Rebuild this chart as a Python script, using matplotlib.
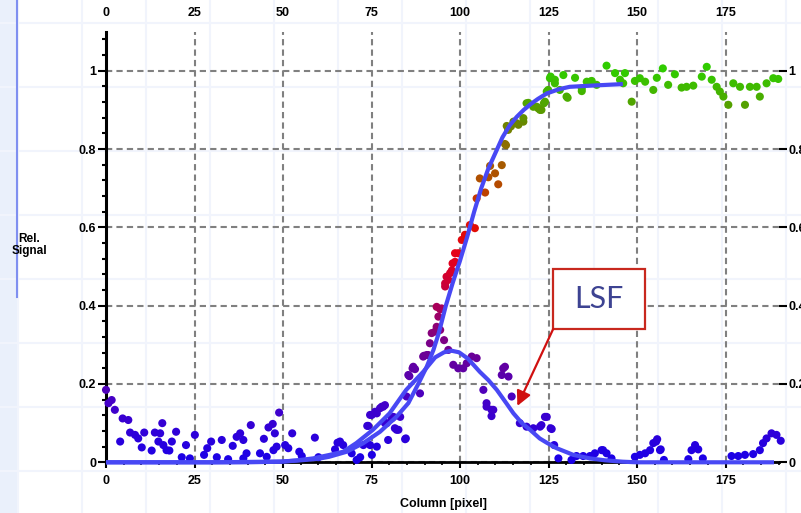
import matplotlib
matplotlib.use("Agg")
import matplotlib.pyplot as plt
import numpy as np
from matplotlib.colors import LinearSegmentedColormap
from matplotlib.patches import Rectangle

# ---- data ----
# edge spread samples (rising edge + plateau)
edge_x = [93.4, 93.9, 94.4, 94.8, 95.8, 95.8, 96.2, 96.7, 97.2, 97.7, 97.9, 98.6, 98.6, 99.5,
          100.5, 101.4, 102.8, 104.2, 104.7, 105.6, 107.1, 108.0, 108.5, 109.9, 110.8, 111.8,
          112.7, 113.0, 113.2, 113.6, 114.4, 115.1, 116.0, 116.5, 117.9, 117.9, 118.8, 119.3,
          120.7, 121.7, 122.1, 122.6, 123.0, 123.7, 124.0, 124.5, 124.9, 125.4, 125.6, 126.8,
          126.8, 128.2, 129.2, 130.1, 130.4, 132.5, 134.4, 134.4, 135.8, 136.7, 137.2, 138.6,
          141.4, 143.8, 145.2, 146.1, 146.6, 148.5, 149.4, 150.8, 152.3, 154.6, 155.6, 157.3,
          158.8, 160.7, 162.6, 164.0, 165.9, 168.3, 169.7, 171.1, 172.5, 173.4, 174.4, 175.8,
          177.2, 179.1, 180.5, 181.9, 183.8, 184.7, 186.6, 188.5, 189.9]
edge_y = [0.397, 0.372, 0.391, 0.393, 0.449, 0.457, 0.474, 0.466, 0.483, 0.49, 0.508, 0.512, 0.534, 0.534,
          0.568, 0.581, 0.606, 0.598, 0.674, 0.725, 0.689, 0.728, 0.757, 0.738, 0.71, 0.759,
          0.813, 0.81, 0.859, 0.849, 0.858, 0.87, 0.866, 0.862, 0.87, 0.879, 0.917, 0.918,
          0.908, 0.908, 0.904, 0.9, 0.9, 0.917, 0.921, 0.947, 0.951, 0.981, 0.985, 0.977,
          0.968, 0.951, 0.989, 0.934, 0.931, 0.982, 0.948, 0.955, 0.972, 0.972, 0.974, 0.964,
          1.013, 0.994, 0.977, 0.968, 0.994, 0.921, 0.974, 0.981, 0.972, 0.951, 0.982, 1.006,
          0.964, 0.991, 0.957, 0.959, 0.962, 0.985, 1.01, 0.977, 0.959, 0.947, 0.934, 0.913,
          0.968, 0.959, 0.913, 0.959, 0.959, 0.934, 0.968, 0.981, 0.979]

# line spread samples (hump + baseline)
lsf_x = [0.0, 0.7, 1.6, 2.5, 4.0, 4.7, 6.3, 6.8, 8.2, 9.1, 10.1, 10.8, 12.9, 13.8, 14.8, 15.3,
         15.9, 16.2, 17.1, 17.9, 18.6, 19.8, 21.4, 22.6, 23.7, 25.1, 27.7, 28.6, 29.7, 31.3,
         32.7, 34.5, 35.8, 36.9, 37.9, 38.8, 38.8, 39.7, 40.9, 43.5, 44.6, 45.4, 45.9, 47.1,
         47.3, 47.7, 48.2, 48.9, 50.6, 51.5, 52.6, 54.6, 55.3, 59.0, 60.0, 64.7, 65.4, 66.1,
         67.0, 69.4, 70.8, 71.8, 72.7,
         73.8, 74.1, 74.6, 74.6, 75.1, 75.1, 76.0, 76.5, 76.5, 77.4, 77.9, 78.3, 78.8, 78.8,
         79.3, 79.7, 80.7, 81.2, 81.6, 82.1, 82.6, 83.1, 84.5, 84.7, 84.9, 85.4, 85.7, 86.6,
         86.8, 87.3, 88.7, 89.6, 89.8, 90.6, 91.0, 91.5, 92.0, 93.0, 93.4, 94.4, 95.5, 96.7,
         98.1, 99.5, 100.9, 101.9, 103.3, 104.7, 106.6, 107.5, 107.5, 108.9, 108.9, 109.4,
         111.8, 112.2, 112.7, 113.7, 114.6, 116.9, 118.8, 120.7, 122.6, 123.0, 124.0, 124.5,
         125.6, 125.9, 126.6, 127.8,
         131.5, 132.9, 134.8, 136.7, 138.1, 140.0, 140.4, 141.4, 142.8, 149.4, 150.8, 152.3,
         153.7, 154.6, 155.4, 155.7, 156.5, 156.7, 157.6, 164.5, 165.4, 166.4, 167.3, 168.6,
         176.7, 178.6, 180.5, 182.8, 184.7, 185.6, 186.6, 188.0, 189.4, 190.6]
lsf_y = [0.185, 0.151, 0.159, 0.134, 0.053, 0.112, 0.108, 0.076, 0.07, 0.061, 0.038, 0.076, 0.03,
         0.076, 0.053, 0.074, 0.1, 0.044, 0.031, 0.03, 0.053, 0.078, 0.013, 0.044, 0.01, 0.07,
         0.019, 0.036, 0.053, 0.013, 0.057, 0.008, 0.042, 0.065, 0.074, 0.057, 0.01, 0.023,
         0.095, 0.023, 0.06, 0.014, 0.089, 0.098, 0.031, 0.074, 0.04, 0.127, 0.044, 0.036,
         0.074, 0.027, 0.016, 0.063, 0.013, 0.033, 0.05, 0.053, 0.044, 0.023, 0.006, 0.013,
         0.044,
         0.093, 0.093, 0.121, 0.044, 0.121, 0.019, 0.129, 0.125, 0.04, 0.138, 0.142, 0.142,
         0.146, 0.1, 0.1, 0.057, 0.112, 0.116, 0.087, 0.083, 0.083, 0.116, 0.059, 0.061, 0.168,
         0.223, 0.22, 0.24, 0.244, 0.238, 0.176, 0.27, 0.272, 0.274, 0.274, 0.304, 0.33, 0.334,
         0.346, 0.338, 0.312, 0.287, 0.249, 0.24, 0.24, 0.253, 0.27, 0.266, 0.185, 0.151,
         0.142, 0.134, 0.118, 0.134, 0.223, 0.24, 0.244, 0.219, 0.168, 0.1, 0.091, 0.087,
         0.091, 0.095, 0.116, 0.116, 0.087, 0.085, 0.044, 0.01,
         0.006, 0.016, 0.016, 0.016, 0.023, 0.031, 0.031, 0.023, 0.01, 0.014, 0.019, 0.023,
         0.031, 0.049, 0.053, 0.059, 0.031, 0.033, 0.006, 0.008, 0.031, 0.044, 0.033, 0.01,
         0.016, 0.016, 0.019, 0.021, 0.031, 0.049, 0.061, 0.074, 0.07, 0.055]

# fitted curves
esf_fit_x = [0, 30, 50, 55, 60, 63, 68, 72.7, 77.4, 82, 85.4, 88.2, 90.6, 92.5, 94, 96, 98, 100,
             102, 104, 106, 108, 110, 112, 114, 116, 118, 120, 122, 124.5, 128, 131, 137, 146]
esf_fit_y = [0, 0, 0.002, 0.005, 0.009, 0.014, 0.027, 0.049, 0.078, 0.116, 0.151, 0.2, 0.244,
             0.287, 0.33, 0.40, 0.46, 0.515, 0.575, 0.64, 0.70, 0.75, 0.79, 0.83, 0.86, 0.882,
             0.90, 0.915, 0.928, 0.942, 0.953, 0.959, 0.962, 0.966]

lsf_fit_x = [0, 40, 49.2, 54, 58.5, 63.2, 67, 70.7, 75.4, 80.1, 84.8, 89.6, 93, 95.5, 97.6,
             99.7, 102.2, 105.6, 108, 110.4, 113, 115.1, 117.5, 119.8, 122.5, 124.5, 127.3,
             132, 136.7, 141, 146, 150, 188.7]
lsf_fit_y = [0, 0, 0.0015, 0.005, 0.010, 0.019, 0.027, 0.049, 0.083, 0.125, 0.185, 0.231,
             0.268, 0.281, 0.285, 0.281, 0.265, 0.231, 0.21, 0.185, 0.152, 0.125, 0.10, 0.083,
             0.061, 0.05, 0.036, 0.019, 0.010, 0.005, 0.0015, 0.0, 0.0]

x_ticks = [0, 25, 50, 75, 100, 125, 150, 175]
y_ticks = [0, 0.2, 0.4, 0.6, 0.8, 1]
y_tick_labels = ["0", "0.2", "0.4", "0.6", "0.8", "1"]

# ---- styling ----
plt.rcParams['font.family'] = ['Liberation Sans', 'DejaVu Sans']

cmap = LinearSegmentedColormap.from_list("sig", [
    (0.0, '#1a00e8'), (0.15, '#4400c8'), (0.27, '#6a0098'), (0.37, '#9a0068'),
    (0.45, '#c8003a'), (0.52, '#e6001a'), (0.62, '#e01000'), (0.7, '#b84800'),
    (0.78, '#a06000'), (0.87, '#688800'), (0.94, '#48b000'), (1.0, '#30cc00')])

W, H = 801, 513
fig = plt.figure(figsize=(W / 100, H / 100), dpi=100)
fig.patch.set_facecolor('white')

# page background: faint layout grid and left band
bg = fig.add_axes([0, 0, 1, 1], zorder=-5)
bg.set_xlim(0, W)
bg.set_ylim(H, 0)
bg.axis('off')
bg.add_patch(Rectangle((0, 0), 17, H, fc='#eaf0fb', ec='none'))
for gx in range(18, W, 64):
    bg.axvline(gx, color='#f1f4fc', lw=1.5)
for gy in range(23, H, 64):
    bg.axhline(gy, color='#f1f4fc', lw=1.5)
bg.plot([17, 17], [0, 297], color='#7f8ff0', lw=1.5)

x0, y0 = 106, 462.3
ax = fig.add_axes([x0 / W, 1 - y0 / H, 672.6 / W, (y0 - 31.6) / H])
ax.set_facecolor('none')
ax.set_xlim(0, 190)
ax.set_ylim(0, 1.1)

ax.scatter(lsf_x, lsf_y, c=lsf_y, cmap=cmap, vmin=0, vmax=1, s=34, lw=0, zorder=3, clip_on=False)
ax.scatter(edge_x, edge_y, c=edge_y, cmap=cmap, vmin=0, vmax=1, s=34, lw=0, zorder=3, clip_on=False)
ax.plot(esf_fit_x, esf_fit_y, color='#4848f4', lw=3, zorder=4, clip_on=False, solid_capstyle='butt')
ax.plot(lsf_fit_x, lsf_fit_y, color='#4848f4', lw=3, zorder=4, clip_on=False, solid_capstyle='butt')

ax.set_xticks(x_ticks)
ax.set_xticks(np.arange(0, 191, 5), minor=True)
ax.set_yticks(y_ticks)
ax.set_yticklabels(y_tick_labels)
ax.set_yticks(np.arange(0, 1.1, 0.04), minor=True)
ax.grid(True, which='major', color='#808080', lw=1.5, ls=(0, (3, 2)))
ax.set_axisbelow(True)

for s in ['top', 'right']:
    ax.spines[s].set_visible(False)
ax.spines['left'].set_linewidth(2.2)
ax.spines['bottom'].set_linewidth(2.0)

ax.tick_params(axis='y', which='major', left=True, right=True, labelleft=True, labelright=True,
               direction='out', length=6, width=1.5, pad=5, labelsize=9)
ax.tick_params(axis='y', which='minor', left=True, right=False, direction='out', length=3, width=1.5)
ax.tick_params(axis='y', which='major', right=True, pad=1)
ax.tick_params(axis='x', which='major', bottom=True, top=False, labeltop=True, direction='out',
               length=4, width=1.5, pad=3, labelsize=9)
ax.tick_params(axis='x', which='minor', bottom=True, top=False, direction='out', length=2.5, width=1.2)
for lab in ax.get_xticklabels() + ax.get_yticklabels():
    lab.set_fontweight('bold')
ax.xaxis.set_tick_params(pad=5, which='major', labeltop=True)

fig.text(29 / W, 1 - 245 / H, "Rel.\nSignal", ha='center', va='center', fontsize=8.5,
         fontweight='bold', linespacing=1.1)
fig.text(443.5 / W, 1 - 504 / H, "Column [pixel]", ha='center', va='center', fontsize=9,
         fontweight='bold')

# LSF callout
ax.add_patch(Rectangle((126.3, 0.34), 26.0, 0.154, fc='white', ec='#c8281e', lw=1.6,
                       zorder=6, clip_on=False))
ax.text(139.3, 0.418, "LSF", ha='center', va='center', fontsize=22, color='#3d4392',
        family=['Lato', 'DejaVu Sans'], zorder=7)
ax.annotate('', xy=(116.2, 0.144), xytext=(126.3, 0.34),
            arrowprops=dict(arrowstyle='-|>', color='#d01010', lw=1.6, mutation_scale=22,
                            shrinkA=0, shrinkB=0), zorder=6)

fig.savefig("out.png", dpi=100)
